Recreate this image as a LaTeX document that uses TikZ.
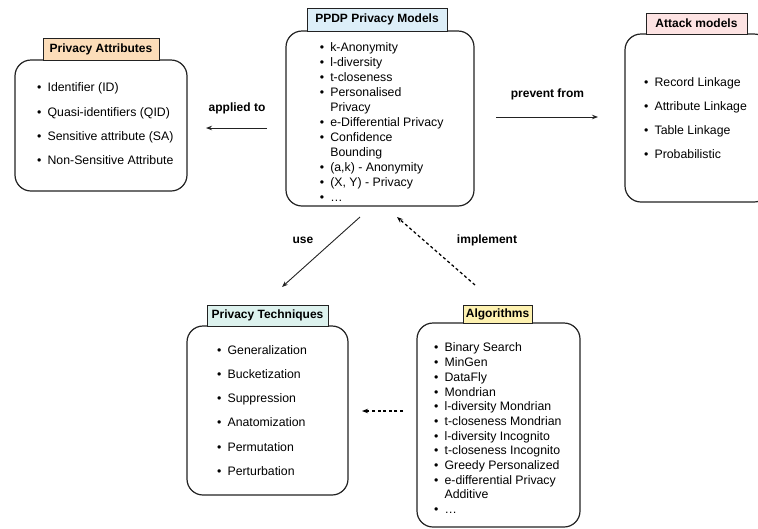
\documentclass[tikz,border=0pt]{standalone}
\usepackage{fontspec}
\setmainfont{Liberation Sans}
\usetikzlibrary{arrows.meta}
\definecolor{tabpa}{HTML}{FCDDB9}
\definecolor{tabppdp}{HTML}{DCEEF8}
\definecolor{tabam}{HTML}{FDE3E3}
\definecolor{tabpt}{HTML}{DDF2EE}
\definecolor{tabal}{HTML}{FDF1B0}
\definecolor{ink}{HTML}{222222}
\newcommand{\blist}[2]{\def\arraystretch{#1}\begin{tabular}{@{}l@{\hspace{6.2pt}}l@{}}#2\end{tabular}}
\begin{document}
\begin{tikzpicture}[x=1pt,y=-1pt,
  bigbox/.style={draw=ink, line width=1.2pt, rounded corners=16pt, fill=white, inner sep=0pt},
  tabbox/.style={draw=ink, line width=0.8pt, font=\bfseries\fontsize{12}{14}\selectfont, inner sep=0pt},
  listtext/.style={inner sep=0pt, anchor=west, align=left, font=\fontsize{12.3}{14.8}\selectfont},
  lbl/.style={font=\bfseries\fontsize{12}{14}\selectfont, inner sep=0pt},
  arr/.style={-{Stealth[length=6pt,width=4.5pt]}, line width=0.9pt, draw=ink},
  darr/.style={arr, line width=1.25pt, draw=black, dash pattern=on 3pt off 2.6pt}]
\useasboundingbox (0,0) rectangle (758,528);

% boxes
\node[bigbox, minimum width=172pt, minimum height=131pt] (pa) at (101,125.5) {};
\node[tabbox, fill=tabpa, minimum width=116pt, minimum height=22pt] (patab) at (101,49) {Privacy Attributes};
\node[bigbox, minimum width=188pt, minimum height=175pt] (ppdp) at (380,118.5) {};
\node[tabbox, fill=tabppdp, minimum width=140pt, minimum height=23pt] (ppdptab) at (377,19.5) {PPDP Privacy Models};
\node[bigbox, minimum width=145pt, minimum height=168pt] (am) at (697.5,118) {};
\node[tabbox, fill=tabam, minimum width=101pt, minimum height=21pt] (amtab) at (696.5,23.5) {Attack models};
\node[bigbox, minimum width=161pt, minimum height=169pt] (pt) at (267.5,410.5) {};
\node[tabbox, fill=tabpt, minimum width=121pt, minimum height=21pt] (pttab) at (267.5,315.5) {Privacy Techniques};
\node[bigbox, minimum width=163pt, minimum height=204pt] (al) at (498.5,425) {};
\node[tabbox, fill=tabal, minimum width=69pt, minimum height=18pt] (altab) at (497.5,314) {Algorithms};

% lists
\node[listtext] (palist) at (36.9,123.5) {\blist{1.642}{%
\textbullet & Identifier (ID)\\
\textbullet & Quasi-identifiers (QID)\\
\textbullet & Sensitive attribute (SA)\\
\textbullet & Non-Sensitive Attribute}};
\node[listtext] (ppdplist) at (319.6,123.5) {\blist{1.007}{%
\textbullet & k-Anonymity\\
\textbullet & l-diversity\\
\textbullet & t-closeness\\
\textbullet & Personalised\\
 & Privacy\\
\textbullet & e-Differential Privacy\\
\textbullet & Confidence\\
 & Bounding\\
\textbullet & (a,k) - Anonymity\\
\textbullet & (X, Y) - Privacy\\
\textbullet & \ldots}};
\node[listtext] (amlist) at (643.9,118) {\blist{1.62}{%
\textbullet & Record Linkage\\
\textbullet & Attribute Linkage\\
\textbullet & Table Linkage\\
\textbullet & Probabilistic}};
\node[listtext] (ptlist) at (216.9,410) {\blist{1.635}{%
\textbullet & Generalization\\
\textbullet & Bucketization\\
\textbullet & Suppression\\
\textbullet & Anatomization\\
\textbullet & Permutation\\
\textbullet & Perturbation}};
\node[listtext] (allist) at (433.9,429.8) {\blist{0.993}{%
\textbullet & Binary Search\\
\textbullet & MinGen\\
\textbullet & DataFly\\
\textbullet & Mondrian\\
\textbullet & l-diversity Mondrian\\
\textbullet & t-closeness Mondrian\\
\textbullet & l-diversity Incognito\\
\textbullet & t-closeness Incognito\\
\textbullet & Greedy Personalized\\
\textbullet & e-differential Privacy\\
 & Additive\\
\textbullet & \ldots}};

% connector end points
\coordinate (a1s) at (267,128);
\coordinate (a1e) at (206,128);
\coordinate (a2s) at (496,117);
\coordinate (a2e) at (598,117);
\coordinate (a3s) at (360,217);
\coordinate (a3e) at (282,287);
\coordinate (a4s) at (475,285);
\coordinate (a4e) at (397,217);
\coordinate (a5s) at (403,411);
\coordinate (a5e) at (362,411);

\draw[arr] (a1s) -- (a1e);
\draw[arr] (a2s) -- (a2e);
\draw[arr] (a3s) -- (a3e);
\draw[darr] (a4s) -- (a4e);
\draw[darr] (a5s) -- (a5e);

% labels
\node[lbl] (l1) at (237,108) {applied to};
\node[lbl] (l2) at (547.5,94) {prevent from};
\node[lbl] (l3) at (303,240) {use};
\node[lbl] (l4) at (487,240) {implement};
\end{tikzpicture}
\end{document}
